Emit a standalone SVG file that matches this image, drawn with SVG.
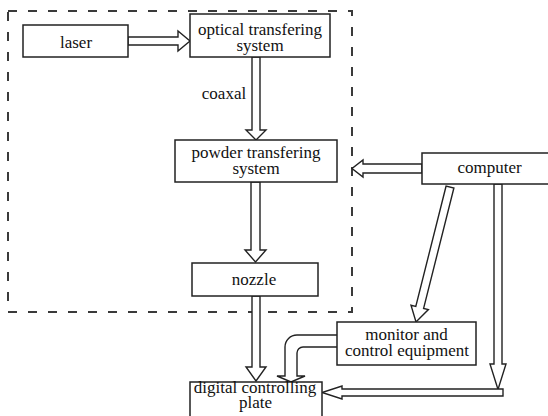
<svg xmlns="http://www.w3.org/2000/svg" width="548" height="416" viewBox="0 0 548 416">
  <style>
    .box { fill: #ffffff; stroke: #222222; stroke-width: 1.5; }
    .arrow { fill: #ffffff; stroke: #222222; stroke-width: 1.4; stroke-linejoin: miter; }
    .frame { fill: none; stroke: #3a3a3a; stroke-width: 2; stroke-dasharray: 9 11; }
    .label { font-size: 17px; fill: #111111; text-anchor: middle; }
  </style>
  <rect width="548" height="416" fill="#ffffff"/>

  <!-- dashed boundary around the optical / powder / nozzle subsystem -->
  <rect class="frame" x="8" y="11" width="344" height="301"/>

  <g id="connectors">
    <!-- laser -> optical transfering system -->
    <polygon class="arrow" points="128,37 178,37 178,31 190,41 178,51 178,45 128,45"/>
    <!-- optical -> powder (coaxal) -->
    <polygon class="arrow" points="252,57 252,130 246,130 256,140 266,130 260,130 260,57"/>
    <!-- powder -> nozzle -->
    <polygon class="arrow" points="251,182 251,250 245,250 255.5,262 266,250 260,250 260,182"/>
    <!-- computer -> subsystem -->
    <polygon class="arrow" points="422,164 363,164 363,160 352,168.5 363,177 363,173 422,173"/>
    <!-- nozzle -> digital controlling plate -->
    <polygon class="arrow" points="252,296 252,367 246,367 256,381 266,367 260,367 260,296"/>
    <!-- computer -> monitor and control equipment -->
    <polygon class="arrow" points="446.1,186 415.8,306.4 411,305.2 416,322 428.4,309.6 423.6,308.4 453.9,188"/>
    <!-- computer -> down the right side -->
    <polygon class="arrow" points="494,184 494,364 490,364 498,389.5 506,364 502,364 502,184"/>
    <!-- right side -> digital controlling plate -->
    <polygon class="arrow" points="503,389 342,389 342,386 322,392.5 342,399 342,396 503,396"/>
    <!-- monitor -> digital controlling plate (bent) -->
    <path class="arrow" d="M338,335 H297 A12,12 0 0 0 285,347 V376 H277 L291,382 L305,376 H297 V353 A6,6 0 0 1 303,347 H338"/>
  </g>

  <g font-family="'Liberation Serif', 'DejaVu Serif', 'Times New Roman', serif">
    <g id="laser">
      <rect class="box" x="23" y="25" width="105" height="32"/>
      <text class="label" x="76" y="48">laser</text>
    </g>

    <g id="optical">
      <rect class="box" x="190" y="14" width="140" height="43"/>
      <text class="label" x="260" y="35">optical transfering</text>
      <text class="label" x="260" y="50.5">system</text>
    </g>

    <text id="coaxal-label" class="label" x="224" y="99">coaxal</text>

    <g id="powder">
      <rect class="box" x="175" y="140" width="162" height="42"/>
      <text class="label" x="256" y="158">powder transfering</text>
      <text class="label" x="256" y="174">system</text>
    </g>

    <g id="computer">
      <rect class="box" x="422" y="153" width="130" height="31"/>
      <text class="label" x="489.5" y="172.5">computer</text>
    </g>

    <g id="nozzle">
      <rect class="box" x="192" y="263" width="126" height="33"/>
      <text class="label" x="254" y="285">nozzle</text>
    </g>

    <g id="monitor">
      <rect class="box" x="337" y="322" width="139" height="43"/>
      <text class="label" x="406.5" y="340">monitor and</text>
      <text class="label" x="407" y="355.5">control equipment</text>
    </g>

    <g id="digital">
      <rect class="box" x="190" y="382" width="132" height="40"/>
      <text class="label" x="255" y="393">digital controlling</text>
      <text class="label" x="255.5" y="408">plate</text>
    </g>
  </g>
</svg>
